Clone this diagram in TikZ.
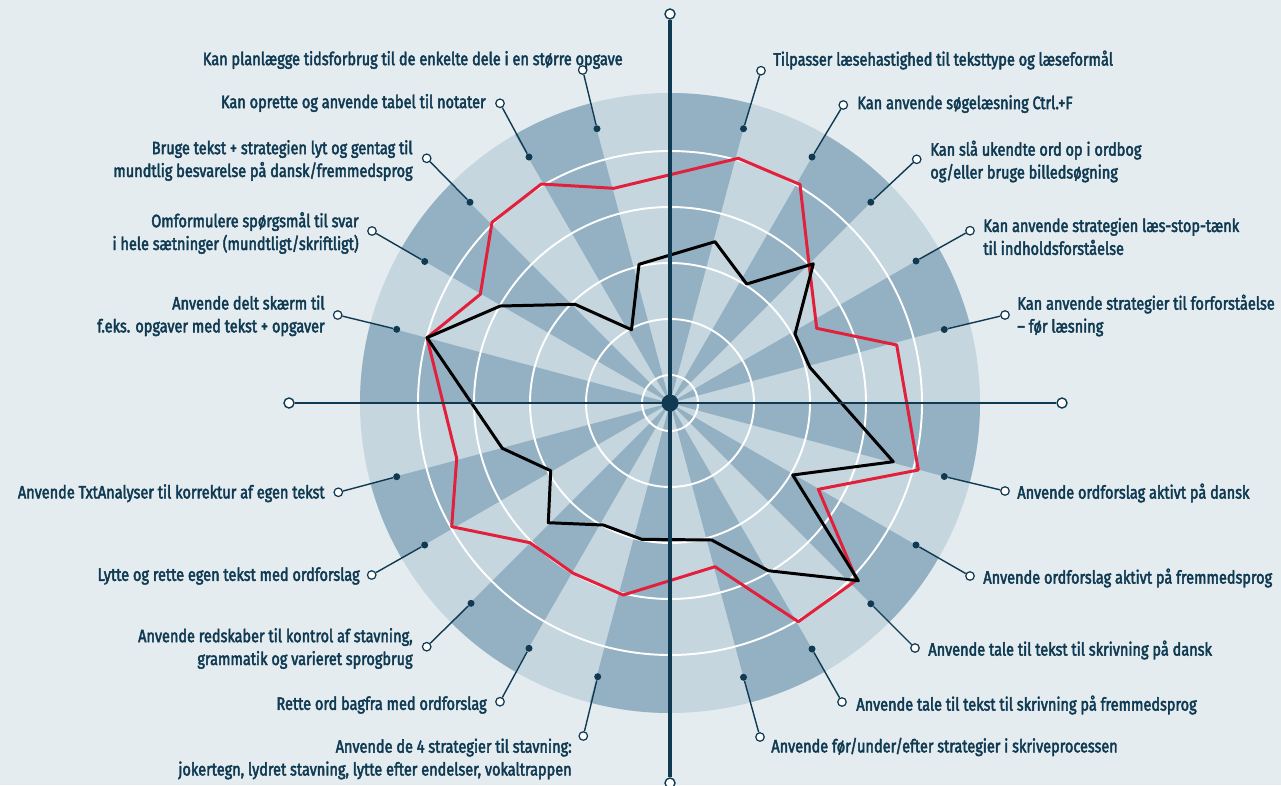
\documentclass[tikz,border=0pt]{standalone}
\usepackage{fontspec}
\setmainfont{Fira Sans}[FakeStretch=0.81,FakeBold=2.5]
\usetikzlibrary{positioning}
\definecolor{navy}{HTML}{0F3A52}
\definecolor{wedgedark}{HTML}{93B1C2}
\definecolor{wedgelight}{HTML}{C5D6DF}
\definecolor{paper}{HTML}{E4ECF0}
\definecolor{scorered}{HTML}{E2203C}

\begin{document}
\begin{tikzpicture}[x=0.02cm,y=-0.02cm,
		spokedot/.style={circle,fill=navy,inner sep=0,minimum size=0.14cm},
		openend/.style={circle,draw=navy,fill=white,line width=0.7pt,inner sep=0,minimum size=0.17cm},
		axisend/.style={circle,draw=navy,fill=white,line width=0.8pt,inner sep=0,minimum size=0.2cm},
		leader/.style={navy,line width=0.8pt},
		itemtext/.style={text=navy,inner sep=0,font=\fontsize{10.2}{13}\selectfont}]
		% background
		\fill[paper] (0,0) rectangle (1281,785);
		\useasboundingbox (0,0) rectangle (1281,785);
		\coordinate (c) at (670,403);
		% wedges
		\fill[wedgelight] (c) circle[radius=310];
		\foreach \i in {0,2,...,22}
		\fill[wedgedark] (c) -- ++(15*\i:310) arc[start angle=15*\i,end angle=15*\i+15,radius=310] -- cycle;
		% rings
		\foreach \r in {28,84,140,196,252}
		\draw[white,line width=1.1pt] (c) circle[radius=\r];

		% red scores
		\draw[scorered,line width=1.7pt,line join=round]
		(738.3,158.3) -- (800,184.5) -- (809,264) -- (816.7,328.3) -- (896.7,345)
		-- (918.3,470) -- (818.3,489.3) -- (856.7,580) -- (798.3,621.7) -- (715,566.7)
		-- (623.3,595) -- (573.3,573.3) -- (530,542.7) -- (451.7,526.7) -- (456.7,458.3)
		-- (427,337.7) -- (480.3,294.3) -- (492,222.3) -- (541.3,184) -- (613.7,188.3) -- cycle;
		% black scores
		\draw[black,line width=1.7pt,line join=round]
		(715,241.7) -- (746.7,284) -- (813.3,263.8) -- (795,334) -- (810,367.5)
		-- (893.3,461.7) -- (792.7,475) -- (858.3,580.7) -- (768.3,570.7) -- (711.7,540)
		-- (641.7,539.3) -- (603.3,525) -- (548.3,522.7) -- (550.7,470.7) -- (502.3,448.3)
		-- (427,337.7) -- (500.3,306) -- (575,304.3) -- (631.5,329.7) -- (639,264.3) -- cycle;

		% axes
		\node[axisend] (atop) at (670,14) {};
		\node[axisend] (abot) at (670,783) {};
		\node[axisend] (aleft) at (289,403) {};
		\node[axisend] (aright) at (1062,403) {};
		\draw[navy,line width=2.2pt] (atop) -- (abot);
		\draw[navy,line width=1.1pt] (aleft) -- (aright);

		% right items
		\node[spokedot] (d1) at (743.5,128.7) {};
		\node[openend] (o1) at (761,70.7) {};
		\draw[leader] (d1) -- (o1);
		\node[itemtext,anchor=west] (l1) at (773,60) {Tilpasser læsehastighed til teksttype og læseformål};

		\node[spokedot] (d2) at (812,157) {};
		\node[openend] (o2) at (843.3,105) {};
		\draw[leader] (d2) -- (o2);
		\node[itemtext,anchor=west] (l2) at (857,104) {Kan anvende søgelæsning Ctrl.+F};

		\node[spokedot] (d3) at (870.8,202.2) {};
		\node[openend] (o3) at (916.7,159.3) {};
		\draw[leader] (d3) -- (o3);
		\node[itemtext,anchor=west,align=left] (l3) at (930,161.5) {Kan slå ukendte ord op i ordbog\\og/eller bruge billedsøgning};

		\node[spokedot] (d4) at (916,261) {};
		\node[openend] (o4) at (970,230.7) {};
		\draw[leader] (d4) -- (o4);
		\node[itemtext,anchor=west,align=left] (l4) at (983,236.5) {Kan anvende strategien læs-stop-tænk\\til indholdsforståelse};

		\node[spokedot] (d5) at (944.3,329.5) {};
		\node[openend] (o5) at (1005,315) {};
		\draw[leader] (d5) -- (o5);
		\node[itemtext,anchor=west,align=left] (l5) at (1017,315.5) {Kan anvende strategier til forforståelse\\– før læsning};

		\node[spokedot] (d6) at (944.3,476.5) {};
		\node[openend] (o6) at (1005,491) {};
		\draw[leader] (d6) -- (o6);
		\node[itemtext,anchor=west] (l6) at (1017,493) {Anvende ordforslag aktivt på dansk};

		\node[spokedot] (d7) at (916,545) {};
		\node[openend] (o7) at (970,576) {};
		\draw[leader] (d7) -- (o7);
		\node[itemtext,anchor=west] (l7) at (983,578) {Anvende ordforslag aktivt på fremmedsprog};

		\node[spokedot] (d8) at (870.8,603.8) {};
		\node[openend] (o8) at (915,648) {};
		\draw[leader] (d8) -- (o8);
		\node[itemtext,anchor=west] (l8) at (928,650) {Anvende tale til tekst til skrivning på dansk};

		\node[spokedot] (d9) at (812,649) {};
		\node[openend] (o9) at (842,702) {};
		\draw[leader] (d9) -- (o9);
		\node[itemtext,anchor=west] (l9) at (856,705) {Anvende tale til tekst til skrivning på fremmedsprog};

		\node[spokedot] (d10) at (743.5,677.3) {};
		\node[openend] (o10) at (760,737) {};
		\draw[leader] (d10) -- (o10);
		\node[itemtext,anchor=west] (l10) at (771,747) {Anvende før/under/efter strategier i skriveprocessen};

		% left items
		\node[spokedot] (d11) at (597,128.7) {};
		\node[openend] (o11) at (582.7,70) {};
		\draw[leader] (d11) -- (o11);
		\node[itemtext,anchor=east] (l11) at (623,60) {Kan planlægge tidsforbrug til de enkelte dele i en større opgave};

		\node[spokedot] (d12) at (529,157) {};
		\node[openend] (o12) at (500,103.3) {};
		\draw[leader] (d12) -- (o12);
		\node[itemtext,anchor=east] (l12) at (486,103) {Kan oprette og anvende tabel til notater};

		\node[spokedot] (d13) at (470,202.2) {};
		\node[openend] (o13) at (426.7,158.3) {};
		\draw[leader] (d13) -- (o13);
		\node[itemtext,anchor=east,align=right] (l13) at (413,160.5) {Bruge tekst + strategien lyt og gentag til\\mundtlig besvarelse på dansk/fremmedsprog};

		\node[spokedot] (d14) at (424.7,261.5) {};
		\node[openend] (o14) at (372,231) {};
		\draw[leader] (d14) -- (o14);
		\node[itemtext,anchor=east,align=right] (l14) at (359,233) {Omformulere spørgsmål til svar\\i hele sætninger (mundtligt/skriftligt)};

		\node[spokedot] (d15) at (396.7,329.3) {};
		\node[openend] (o15) at (337.7,315) {};
		\draw[leader] (d15) -- (o15);
		\node[itemtext,anchor=east,align=right] (l15) at (325,315.8) {Anvende delt skærm til\\f.eks. opgaver med tekst + opgaver};

		\node[spokedot] (d16) at (396.7,476.7) {};
		\node[openend] (o16) at (338.3,492.3) {};
		\draw[leader] (d16) -- (o16);
		\node[itemtext,anchor=east] (l16) at (325,493.3) {Anvende TxtAnalyser til korrektur af egen tekst};

		\node[spokedot] (d17) at (424.7,545) {};
		\node[openend] (o17) at (371.7,575) {};
		\draw[leader] (d17) -- (o17);
		\node[itemtext,anchor=east] (l17) at (360,576) {Lytte og rette egen tekst med ordforslag};

		\node[spokedot] (d18) at (471,603.3) {};
		\node[openend] (o18) at (426.7,646.7) {};
		\draw[leader] (d18) -- (o18);
		\node[itemtext,anchor=east,align=right] (l18) at (413,648.5) {Anvende redskaber til kontrol af stavning,\\grammatik og varieret sprogbrug};

		\node[spokedot] (d19) at (529,648.3) {};
		\node[openend] (o19) at (500,701.7) {};
		\draw[leader] (d19) -- (o19);
		\node[itemtext,anchor=east] (l19) at (487,705) {Rette ord bagfra med ordforslag};

		\node[spokedot] (d20) at (597.7,676.7) {};
		\node[openend] (o20) at (583.3,736) {};
		\draw[leader] (d20) -- (o20);
		\node[itemtext,anchor=east,align=right] (l20) at (572,759) {Anvende de 4 strategier til stavning:\\jokertegn, lydret stavning, lytte efter endelser, vokaltrappen};

		% centre
		\node[circle,fill=navy,inner sep=0,minimum size=0.34cm] (ctr) at (c) {};
\end{tikzpicture}
\end{document}
